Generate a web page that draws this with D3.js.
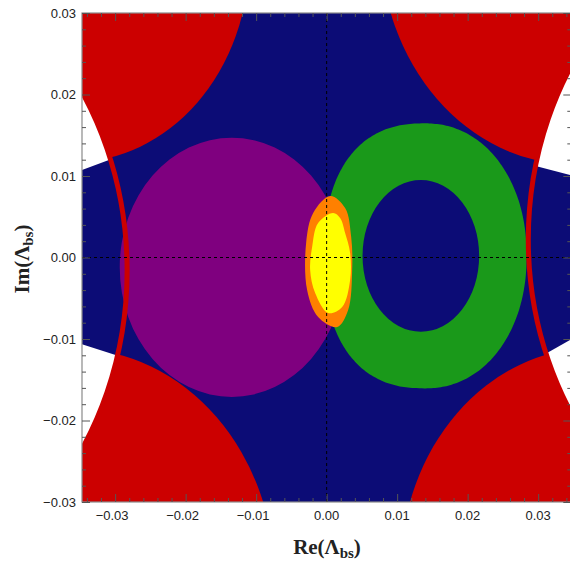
<!DOCTYPE html>
<html><head><meta charset="utf-8">
<script src="https://cdn.jsdelivr.net/npm/d3@7"></script>
<style>body{margin:0;background:#fff;overflow:hidden}</style>
</head><body>
<svg id="c" width="570" height="564"></svg>
<script>
// ---- data (in data units) ----
const xDomain = [-0.0347, 0.0347];
const yDomain = [-0.03, 0.03];
const xTicks = [-0.03, -0.02, -0.01, 0, 0.01, 0.02, 0.03];
const yTicks = [-0.03, -0.02, -0.01, 0, 0.01, 0.02, 0.03];
const xTickLabels = ["−0.03", "−0.02", "−0.01", "0.00", "0.01", "0.02", "0.03"];
const yTickLabels = ["−0.03", "−0.02", "−0.01", "0.00", "0.01", "0.02", "0.03"];
// red corner regions: [cx, cy, r]
const redDisks = [[-0.0360, 0.0367, 0.0250], [0.0351, 0.0389, 0.0275], [-0.0358, -0.0397, 0.0285], [0.0378, -0.0384, 0.0273]];
// boundary circles (white interior, red rim): [cx, cy, r]
const boundaryCircles = [[-0.0689, -0.0016, 0.0406], [0.0688, 0.0022, 0.0402]];
// navy bands extending past the boundary circles
const bandLeft = [[-0.0360, 0.0103], [-0.0280, 0.0129], [-0.0280, -0.0125], [-0.0360, -0.0103]];
const bandRight = [[0.0280, 0.0116], [0.0360, 0.0098], [0.0360, -0.0094], [0.0280, -0.0133]];
// ellipses: [cx, cy, rx, ry]
const purpleDisk = [-0.01345, -0.0012, 0.0159, 0.0159];
// green ring outer: [cx, cy, rx, ry, squareness left half, squareness right half]
const greenOuter = [0.0140, 0.0002, 0.01437, 0.01626, 2.4, 2.1];
const greenInner = [0.01336, 0.0002, 0.00827, 0.0093];
const orangeOutline = [[0.0005, 0.00755], [-0.00191, 0.00546], [-0.00291, 0.00178], [-0.00277, -0.00399], [-0.00121, -0.0073], [0.00149, -0.00853], [0.00305, -0.00644], [0.00362, -0.00153], [0.00348, 0.00252], [0.00262, 0.00607]];
const yellowOutline = [[0.00092, 0.00546], [-0.00121, 0.00423], [-0.00206, 0.00129], [-0.00234, -0.00153], [-0.00163, -0.00436], [0.00021, -0.00681], [0.0022, -0.00607], [0.00333, -0.00276], [0.00333, 0.00055], [0.00262, 0.00301], [0.00191, 0.00485]];

const colors = {navy: "#0c0c76", red: "#cc0000", purple: "#7f007f", green: "#1a991a", orange: "#ff8000", yellow: "#ffff00"};

// ---- layout ----
const L = 82, R = 571.3, T = 13, B = 502;
const x = d3.scaleLinear().domain(xDomain).range([L, R]);
const y = d3.scaleLinear().domain(yDomain).range([B, T]);
const svg = d3.select("#c");
const defs = svg.append("defs");
defs.append("clipPath").attr("id", "plot").append("rect")
  .attr("x", L).attr("y", T).attr("width", R - L).attr("height", B - T);
boundaryCircles.forEach((c, i) => {
  defs.append("clipPath").attr("id", "bc" + i).append("ellipse")
    .attr("cx", x(c[0])).attr("cy", y(c[1]))
    .attr("rx", x(c[0] + c[2]) - x(c[0])).attr("ry", y(c[1]) - y(c[1] + c[2]));
});

const g = svg.append("g").attr("clip-path", "url(#plot)");
g.append("rect").attr("x", L).attr("y", T).attr("width", R - L).attr("height", B - T).attr("fill", colors.navy);

g.selectAll(".red").data(redDisks).join("ellipse")
  .attr("cx", d => x(d[0])).attr("cy", d => y(d[1]))
  .attr("rx", d => x(d[0] + d[2]) - x(d[0])).attr("ry", d => y(d[1]) - y(d[1] + d[2]))
  .attr("fill", colors.red);

g.selectAll(".wc").data(boundaryCircles).join("ellipse")
  .attr("cx", d => x(d[0])).attr("cy", d => y(d[1]))
  .attr("rx", d => x(d[0] + d[2]) - x(d[0])).attr("ry", d => y(d[1]) - y(d[1] + d[2]))
  .attr("fill", "#fff");

const poly = d3.line().x(d => x(d[0])).y(d => y(d[1]));
[bandLeft, bandRight].forEach((b, i) => {
  g.append("g").attr("clip-path", "url(#bc" + i + ")")
    .append("path").attr("d", poly(b) + "Z").attr("fill", colors.navy);
});

function ellPath(e) {
  const cx = x(e[0]), cy = y(e[1]), rx = x(e[0] + e[2]) - x(e[0]), ry = y(e[1]) - y(e[1] + e[3]);
  return `M${cx - rx},${cy}a${rx},${ry} 0 1,0 ${2 * rx},0a${rx},${ry} 0 1,0 ${-2 * rx},0Z`;
}
function superPath(e) {
  const pts = d3.range(0, 360, 2).map(a => {
    const t = a * Math.PI / 180, c = Math.cos(t), s = Math.sin(t);
    const p = 2 / (c < 0 ? e[4] : e[5]);
    return [e[0] + e[2] * Math.sign(c) * Math.pow(Math.abs(c), p), e[1] + e[3] * Math.sign(s) * Math.pow(Math.abs(s), p)];
  });
  return d3.line().x(d => x(d[0])).y(d => y(d[1])).curve(d3.curveCatmullRomClosed)(pts);
}
g.append("path").attr("d", ellPath(purpleDisk)).attr("fill", colors.purple);
g.append("path").attr("d", superPath(greenOuter) + ellPath(greenInner)).attr("fill", colors.green).attr("fill-rule", "evenodd");

const smooth = d3.line().x(d => x(d[0])).y(d => y(d[1])).curve(d3.curveCatmullRomClosed);
g.append("path").attr("d", smooth(orangeOutline)).attr("fill", colors.orange);
g.append("path").attr("d", smooth(yellowOutline)).attr("fill", colors.yellow);

// red rims of the boundary circles
g.selectAll(".rim").data(boundaryCircles).join("ellipse")
  .attr("cx", d => x(d[0])).attr("cy", d => y(d[1]))
  .attr("rx", d => x(d[0] + d[2]) - x(d[0])).attr("ry", d => y(d[1]) - y(d[1] + d[2]))
  .attr("fill", "none").attr("stroke", colors.red).attr("stroke-width", 5);

// dashed axes
g.append("line").attr("x1", x(0)).attr("x2", x(0)).attr("y1", T).attr("y2", B)
  .attr("stroke", "#000").attr("stroke-width", 1).attr("stroke-dasharray", "3,3");
g.append("line").attr("x1", L).attr("x2", R).attr("y1", y(0)).attr("y2", y(0))
  .attr("stroke", "#000").attr("stroke-width", 1).attr("stroke-dasharray", "3,3");

// frame & ticks
svg.append("rect").attr("x", L).attr("y", T).attr("width", R - L).attr("height", B - T)
  .attr("fill", "none").attr("stroke", "#8a8a8a").attr("stroke-width", 1.2);

const minorX = x.ticks(35).filter(v => !xTicks.some(t => Math.abs(t - v) < 1e-9));
const minorY = y.ticks(30).filter(v => !yTicks.some(t => Math.abs(t - v) < 1e-9));
function styleAxis(sel) {
  sel.select(".domain").remove();
  sel.selectAll("line").attr("stroke", "#555").attr("stroke-width", 1);
  sel.selectAll("text").remove();
}
svg.append("g").attr("transform", `translate(0,${B})`).call(d3.axisBottom(x).tickValues(xTicks).tickSize(-8)).call(styleAxis);
svg.append("g").attr("transform", `translate(0,${B})`).call(d3.axisBottom(x).tickValues(minorX).tickSize(-4)).call(styleAxis);
svg.append("g").attr("transform", `translate(0,${T})`).call(d3.axisTop(x).tickValues(xTicks).tickSize(-8)).call(styleAxis);
svg.append("g").attr("transform", `translate(0,${T})`).call(d3.axisTop(x).tickValues(minorX).tickSize(-4)).call(styleAxis);
svg.append("g").attr("transform", `translate(${L},0)`).call(d3.axisLeft(y).tickValues(yTicks).tickSize(-8)).call(styleAxis);
svg.append("g").attr("transform", `translate(${L},0)`).call(d3.axisLeft(y).tickValues(minorY).tickSize(-4)).call(styleAxis);
svg.append("g").attr("transform", `translate(${R},0)`).call(d3.axisRight(y).tickValues(yTicks).tickSize(-8)).call(styleAxis);
svg.append("g").attr("transform", `translate(${R},0)`).call(d3.axisRight(y).tickValues(minorY).tickSize(-4)).call(styleAxis);

// tick labels
const lf = "'Liberation Sans', Arial, sans-serif";
svg.append("g").selectAll("text").data(xTicks).join("text")
  .attr("x", d => x(d) - (d < 0 ? 3 : 0)).attr("y", 520).attr("text-anchor", "middle")
  .attr("font-family", lf).attr("font-size", "13px").attr("fill", "#222")
  .text((d, i) => xTickLabels[i]);
svg.append("g").selectAll("text").data(yTicks).join("text")
  .attr("x", 76).attr("y", d => y(d) + 4.5).attr("text-anchor", "end")
  .attr("font-family", lf).attr("font-size", "13px").attr("fill", "#222")
  .text((d, i) => yTickLabels[i]);

// axis titles
const tf = "'Liberation Serif', 'DejaVu Serif', serif";
const xt = svg.append("text").attr("x", 327).attr("y", 554).attr("text-anchor", "middle")
  .attr("font-family", tf).attr("font-weight", "bold").attr("font-size", "21px").attr("fill", "#222");
xt.append("tspan").text("Re(Λ");
xt.append("tspan").attr("font-size", "15px").attr("dy", 4).text("bs");
xt.append("tspan").attr("dy", -4).text(")");
const yt = svg.append("text").attr("transform", "translate(29,259) rotate(-90)").attr("text-anchor", "middle")
  .attr("font-family", tf).attr("font-weight", "bold").attr("font-size", "21px").attr("fill", "#222");
yt.append("tspan").text("Im(Λ");
yt.append("tspan").attr("font-size", "15px").attr("dy", 4).text("bs");
yt.append("tspan").attr("dy", -4).text(")");
</script>
</body></html>
